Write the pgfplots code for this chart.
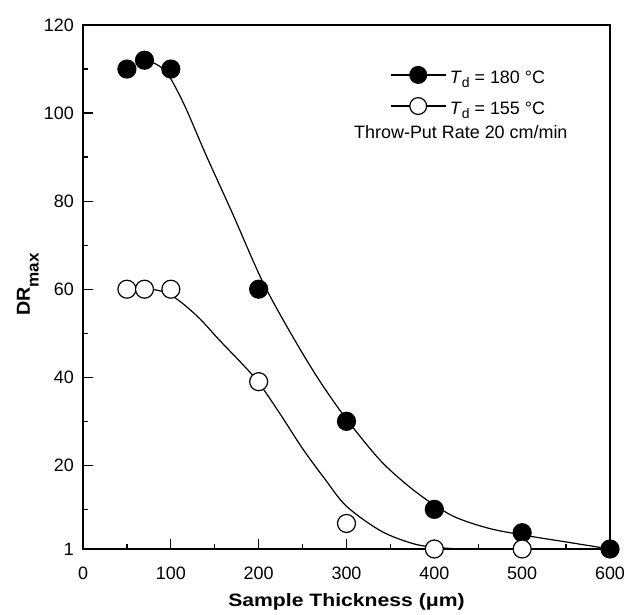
\documentclass[border=0pt]{standalone}
\usepackage{fontspec}
\setmainfont{Liberation Sans}
\usepackage{graphicx}
\usepackage{pgfplots}
\pgfplotsset{compat=1.18}
\usetikzlibrary{calc}
\pgfplotstableread{
x y
50 110
70 112
100 110
200 60
300 30
400 10
500 4.7
600 1
}\hot
\pgfplotstableread{
x y
50 60
70 60
100 60
200 39
300 6.8
400 1
500 1
}\cold
\pgfplotstableread{
x y
78 111.6
95 109.3
115 102
140 90.5
170 77.3
205 61.5
240 48.8
270 39
300 30.5
340 20.8
380 13.8
420 8.6
460 5.8
500 4.2
550 2.6
600 1
}\hotfit
\pgfplotstableread{
x y
78 60
95 59.2
112 57
133 53.3
155 48.5
180 43.3
200 38.8
225 31.5
250 23.8
275 17
300 10.7
340 5.0
380 2.0
420 1.1
460 1
500 1
}\coldfit
\begin{document}
\fontsize{9}{10.8}\selectfont
\begin{tikzpicture}
\begin{axis}[
 scale only axis, width=263.5bp, height=262bp,
 xmin=0, xmax=600, ymin=1, ymax=120,
 xtick={0,100,...,600}, minor xtick={50,150,...,550},
 ytick={1,20,40,60,80,100,120}, minor ytick={10,30,...,110},
 tick align=inside, xtick pos=bottom, ytick pos=left,
 major tick length=5bp, minor tick length=2.6bp,
 axis line style={line width=0.7bp},
 every tick/.style={line width=0.6bp, black},
 /pgf/number format/assume math mode=true,
 yticklabel style={xshift=-1.4bp},
 xticklabel style={yshift=-5.8bp},
 xlabel={\scalebox{1.18}[1]{\textbf{Sample Thickness (μm)}}},
 ylabel={\scalebox{1.1}[1.05]{\textbf{DR}\raisebox{-4.2bp}{\fontsize{7.8}{8}\selectfont\bfseries max}}},
 xlabel style={at={(axis description cs:0.5,-0.1101)}, anchor=base},
 ylabel style={at={(axis description cs:-0.101,0.505)}, anchor=base},
 clip=false,
 legend style={draw=none, fill=none, at={(axis description cs:0.582,0.9215)}, anchor=north west, inner sep=0pt, nodes={inner sep=1.75bp}, row sep=3.8bp},
 legend cell align=left,
 legend image code/.code={\draw[mark repeat=2,mark phase=2,#1] plot coordinates {(0bp,2bp) (13.75bp,2bp) (27.5bp,2bp)};},
]
\addplot[black, line width=0.6bp, smooth, forget plot] table[x=x,y=y] {\hotfit};
\addplot[black, line width=0.6bp, smooth, forget plot] table[x=x,y=y] {\coldfit};
\addplot[only marks, mark=*, mark size=4.5bp, mark options={fill=black, draw=black, line width=0.6bp}, forget plot] table[x=x,y=y] {\hot};
\addplot[only marks, mark=*, mark size=4.5bp, mark options={fill=white, draw=black, line width=0.6bp}, forget plot] table[x=x,y=y] {\cold};
\addlegendimage{black, line width=0.6bp, mark=*, mark size=4.2bp, mark options={fill=black}}
\addlegendentry{\textit{T}\raisebox{-2bp}{\fontsize{7}{8}\selectfont d} = 180 °C}
\addlegendimage{black, line width=0.6bp, mark=*, mark size=4.2bp, mark options={fill=white}}
\addlegendentry{\textit{T}\raisebox{-2bp}{\fontsize{7}{8}\selectfont d} = 155 °C}
\node[anchor=base] at (axis description cs:0.717,0.7835) {Throw-Put Rate 20 cm/min};
\coordinate (bl) at (rel axis cs:0,0);
\coordinate (tr) at (rel axis cs:1,1);
\end{axis}
\pgfresetboundingbox
\path ($(bl)+(-41.5bp,-33bp)$) rectangle ($(tr)+(14.5bp,12.5bp)$);
\end{tikzpicture}
\end{document}
